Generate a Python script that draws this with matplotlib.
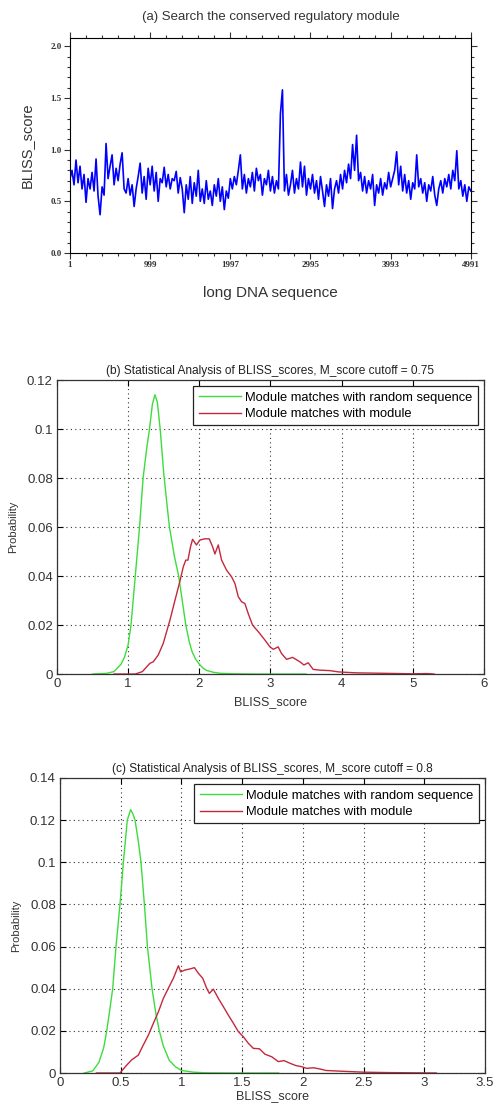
import matplotlib
matplotlib.use('Agg')
import matplotlib.pyplot as plt
import numpy as np
from matplotlib.ticker import FixedLocator, FuncFormatter, MultipleLocator

# ---- data ----
# (a) BLISS score along the long DNA sequence, one value every ~25 positions
seq_start = 1
seq_end = 4991
bliss_scan = [
    0.72, 0.80, 0.66, 0.90, 0.68, 0.84, 0.62, 0.76, 0.49, 0.72,
    0.62, 0.78, 0.60, 0.91, 0.55, 0.37, 0.64, 0.56, 1.06, 0.72,
    0.84, 0.95, 0.66, 0.82, 0.70, 0.86, 0.97, 0.62, 0.58, 0.72,
    0.56, 0.66, 0.45, 0.62, 0.74, 0.87, 0.58, 0.74, 0.52, 0.82,
    0.66, 0.84, 0.60, 0.78, 0.50, 0.72, 0.68, 0.83, 0.64, 0.76,
    0.62, 0.72, 0.70, 0.79, 0.58, 0.73, 0.62, 0.39, 0.66, 0.52,
    0.74, 0.48, 0.68, 0.55, 0.80, 0.50, 0.62, 0.48, 0.70, 0.52,
    0.60, 0.46, 0.66, 0.55, 0.72, 0.50, 0.64, 0.42, 0.60, 0.53,
    0.72, 0.62, 0.74, 0.66, 0.80, 0.95, 0.62, 0.76, 0.58, 0.72,
    0.64, 0.78, 0.60, 0.82, 0.70, 0.76, 0.56, 0.72, 0.66, 0.80,
    0.60, 0.74, 0.58, 0.70, 0.62, 1.35, 1.58, 0.60, 0.76, 0.56,
    0.66, 0.80, 0.58, 0.72, 0.62, 0.88, 0.64, 0.84, 0.56, 0.72,
    0.62, 0.76, 0.58, 0.70, 0.52, 0.74, 0.60, 0.45, 0.66, 0.55,
    0.72, 0.43, 0.62, 0.70, 0.58, 0.76, 0.62, 0.80, 0.68, 0.86,
    0.72, 1.05, 0.80, 1.14, 0.70, 0.78, 0.60, 0.74, 0.58, 0.70,
    0.62, 0.76, 0.46, 0.66, 0.58, 0.72, 0.56, 0.68, 0.62, 0.78,
    0.64, 0.72, 0.80, 0.98, 0.66, 0.84, 0.60, 0.76, 0.58, 0.70,
    0.52, 0.68, 0.62, 0.95, 0.64, 0.72, 0.58, 0.68, 0.50, 0.66,
    0.60, 0.74, 0.56, 0.46, 0.62, 0.70, 0.58, 0.72, 0.64, 0.76,
    0.62, 0.80, 0.70, 0.99, 0.62, 0.70, 0.55, 0.66, 0.50, 0.64,
    0.60,
]
seq_ticks = [1, 999, 1997, 2995, 3993, 4991]

# (b) cutoff 0.75
b_rand_x = [0.5, 0.7, 0.8, 0.9, 0.95, 1.0, 1.04, 1.1, 1.16, 1.21, 1.26, 1.3, 1.34, 1.376,
            1.41, 1.45, 1.5, 1.55, 1.58, 1.65, 1.71, 1.76, 1.81, 1.86, 1.9, 1.95, 2.0,
            2.05, 2.1, 2.2, 2.3, 2.5, 2.8, 3.5]
b_rand_y = [0.0, 0.0003, 0.001, 0.004, 0.007, 0.012, 0.02, 0.04, 0.06, 0.08, 0.092, 0.1, 0.11, 0.114,
            0.111, 0.1, 0.082, 0.068, 0.06, 0.048, 0.04, 0.03, 0.02, 0.013, 0.009, 0.006, 0.004,
            0.0025, 0.0015, 0.0007, 0.0003, 0.0001, 0.0, 0.0]
b_mod_x = [0.8, 1.1, 1.2, 1.306, 1.353, 1.423, 1.493, 1.587, 1.657, 1.728, 1.775, 1.81, 1.84, 1.877,
           1.905, 1.96, 2.008, 2.079, 2.139, 2.186, 2.219, 2.266, 2.313, 2.383, 2.453, 2.5,
           2.547, 2.594, 2.64, 2.687, 2.748, 2.828, 2.921, 2.992, 3.04, 3.108, 3.155, 3.226,
           3.31, 3.413, 3.47, 3.53, 3.6, 3.69, 3.834, 3.95, 4.0, 4.2, 4.4, 4.6, 4.8, 5.0,
           5.2, 5.3]
b_mod_y = [0.0, 0.0, 0.001, 0.0044, 0.005, 0.0078, 0.0125, 0.022, 0.03, 0.038, 0.0438, 0.0465,
           0.0465, 0.052, 0.055, 0.0527, 0.0547, 0.0552, 0.0552, 0.052, 0.049, 0.0527, 0.0465,
           0.0424, 0.0397, 0.037, 0.0316, 0.0295, 0.0288, 0.0247, 0.02, 0.0173, 0.0139, 0.0111,
           0.0101, 0.0111, 0.0084, 0.006, 0.0068, 0.005, 0.0037, 0.0046, 0.0019, 0.0016, 0.0014,
           0.0009, 0.0008, 0.0005, 0.0004, 0.0003, 0.0002, 0.0001, 0.0002, 0.0]

# (c) cutoff 0.8
c_rand_x = [0.2, 0.27, 0.32, 0.36, 0.385, 0.41, 0.434, 0.461, 0.494, 0.522, 0.554, 0.582, 0.6,
            0.618, 0.645, 0.667, 0.695, 0.72, 0.758, 0.79, 0.818, 0.85, 0.9, 0.95, 1.0, 1.1,
            1.2, 1.4, 1.8]
c_rand_y = [0.0, 0.001, 0.005, 0.012, 0.02, 0.03, 0.04, 0.06, 0.08, 0.1, 0.12, 0.125, 0.123,
            0.12, 0.11, 0.1, 0.08, 0.06, 0.04, 0.028, 0.02, 0.013, 0.006, 0.003, 0.0012, 0.0004,
            0.0001, 0.0, 0.0]
c_mod_x = [0.3, 0.494, 0.55, 0.59, 0.645, 0.686, 0.728, 0.769, 0.81, 0.851, 0.892, 0.934, 0.975,
           0.994, 1.03, 1.071, 1.107, 1.14, 1.175, 1.208, 1.23, 1.263, 1.304, 1.345, 1.386,
           1.428, 1.469, 1.51, 1.551, 1.592, 1.642, 1.689, 1.744, 1.798, 1.845, 1.895, 1.944,
           1.99, 2.032, 2.087, 2.142, 2.19, 2.3, 2.5, 2.7, 2.9, 3.1]
c_mod_y = [0.0, 0.0, 0.0038, 0.0062, 0.0085, 0.0133, 0.018, 0.0236, 0.029, 0.0354, 0.0402,
           0.045, 0.0509, 0.048, 0.0489, 0.0494, 0.05, 0.0473, 0.045, 0.0402, 0.0378, 0.0398,
           0.0354, 0.0315, 0.0275, 0.0236, 0.0196, 0.0172, 0.0141, 0.0117, 0.0115, 0.0089,
           0.0077, 0.0054, 0.0059, 0.0046, 0.0035, 0.003, 0.0022, 0.0025, 0.0019, 0.0012,
           0.0009, 0.0004, 0.0002, 0.0001, 0.0]

legend_labels = ['Module matches with random sequence', 'Module matches with module']
green = '#3ddc3d'
red = '#c4283c'

plt.rcParams['font.family'] = ['Liberation Sans', 'DejaVu Sans']

fig = plt.figure(figsize=(4.93, 11.07), dpi=100)

# ---- (a) ----
ax1 = fig.add_axes([0.142, 0.7715, 0.813, 0.194])
pos = np.linspace(seq_start, seq_end, len(bliss_scan))
ax1.plot(pos, bliss_scan, color='#0000ff', lw=1.2)
ax1.set_xlim(seq_start, seq_end)
ax1.set_ylim(0, 2.08)
ax1.xaxis.set_major_locator(FixedLocator(seq_ticks))
ax1.xaxis.set_minor_locator(FixedLocator(np.linspace(seq_start, seq_end, 26)))
ax1.yaxis.set_major_locator(MultipleLocator(0.5))
ax1.yaxis.set_minor_locator(MultipleLocator(0.1))
ax1.yaxis.set_major_formatter(FuncFormatter(lambda v, p: '%.1f' % v))
ax1.tick_params(which='both', direction='out', top=True, right=True, width=0.8, color='#333333')
ax1.tick_params(which='major', length=4)
ax1.tick_params(which='minor', length=2.5)
for lab in ax1.get_xticklabels() + ax1.get_yticklabels():
    lab.set_fontfamily('Liberation Serif')
    lab.set_fontweight('bold')
    lab.set_fontsize(6.5)
    lab.set_color('#333333')
ax1.tick_params(pad=2)
ax1.set_title('(a) Search the conserved regulatory module', fontsize=9.5, color='#333333', pad=13)
ax1.set_ylabel('BLISS_score', fontsize=10.5, color='#333333', labelpad=12)
ax1.set_xlabel('long DNA sequence', fontsize=11, color='#333333', labelpad=12)


def matlab_axes(ax, title, xmax, xstep, ymax, ystep, xpad):
    ax.set_xlim(0, xmax)
    ax.set_ylim(0, ymax)
    ax.xaxis.set_major_locator(MultipleLocator(xstep))
    ax.yaxis.set_major_locator(MultipleLocator(ystep))
    fmt = FuncFormatter(lambda v, p: '%g' % round(v, 4))
    ax.xaxis.set_major_formatter(fmt)
    ax.yaxis.set_major_formatter(fmt)
    ax.tick_params(direction='in', top=True, right=True, length=4, width=0.8,
                   labelsize=9.5, labelcolor='#333333', pad=3)
    ax.grid(True, linestyle=(0, (1, 3)), color='#333333', lw=0.8)
    for s in ax.spines.values():
        s.set_linewidth(0.9)
        s.set_color('#333333')
    ax.set_title(title, fontsize=8.6, color='#222222', pad=4)
    ax.set_xlabel('BLISS_score', fontsize=9, color='#333333', labelpad=xpad)
    ax.set_ylabel('Probability', fontsize=8, color='#333333', labelpad=6)
    leg = ax.legend(legend_labels, loc='upper right', fontsize=9.3, handlelength=3.3,
                    handletextpad=0.3, labelspacing=0.35, borderaxespad=0.5,
                    fancybox=False, framealpha=1, edgecolor='#222222')
    leg.get_frame().set_linewidth(0.9)


# ---- (b) ----
ax2 = fig.add_axes([0.1156, 0.3911, 0.8661, 0.2656])
ax2.plot(b_rand_x, b_rand_y, color=green, lw=1.0)
ax2.plot(b_mod_x, b_mod_y, color=red, lw=1.0)
matlab_axes(ax2, '(b) Statistical Analysis of BLISS_scores, M_score cutoff = 0.75', 6, 1, 0.12, 0.02, 4)

# ---- (c) ----
ax3 = fig.add_axes([0.1217, 0.0307, 0.8621, 0.2665])
ax3.plot(c_rand_x, c_rand_y, color=green, lw=1.0)
ax3.plot(c_mod_x, c_mod_y, color=red, lw=1.0)
matlab_axes(ax3, '(c) Statistical Analysis of BLISS_scores, M_score cutoff = 0.8', 3.5, 0.5, 0.14, 0.02, 1)

fig.savefig('out.png', dpi=100)
